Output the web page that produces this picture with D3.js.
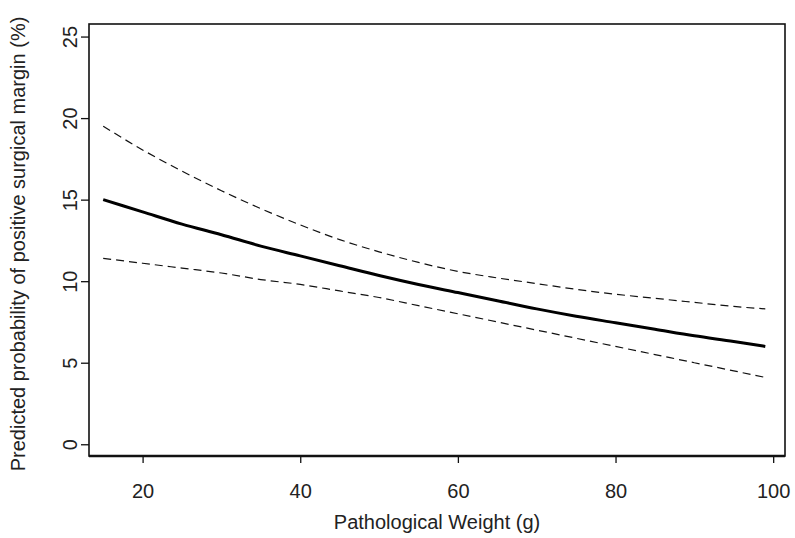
<!DOCTYPE html>
<html><head><meta charset="utf-8">
<script src="https://cdn.jsdelivr.net/npm/d3@7"></script>
<style>body{margin:0;background:#fff}svg{display:block}text{font-family:"Liberation Sans",Arial,sans-serif;fill:#222}</style>
</head><body><svg id="c" width="795" height="538"></svg>
<script>
const weights = [15,20,25,30,35,40,45,50,55,60,65,70,75,80,85,90,95,99];
const predicted = [15.0,14.25,13.5,12.85,12.15,11.55,10.95,10.35,9.8,9.3,8.8,8.3,7.85,7.45,7.05,6.65,6.3,6.0];
const upperCI = [19.5,18.05,16.75,15.55,14.45,13.45,12.55,11.8,11.15,10.6,10.2,9.85,9.5,9.2,8.95,8.7,8.45,8.3];
const lowerCI = [11.4,11.1,10.8,10.5,10.1,9.8,9.4,9.0,8.5,8.0,7.5,7.0,6.5,6.0,5.5,5.0,4.5,4.1];
const xTicks = [20,40,60,80,100];
const yTicks = [0,5,10,15,20,25];
const xTitle = "Pathological Weight (g)";
const yTitle = "Predicted probability of positive surgical margin (%)";

const FONT = '"Liberation Sans",Arial,sans-serif';
const svg = d3.select("#c");
const L=89, R=785, T=24, B=456;
const x = d3.scaleLinear().domain([13.2,101.5]).range([L,R]);
const y = d3.scaleLinear().domain([-0.72,25.77]).range([B,T]);

// frame
svg.append("rect").attr("x",L).attr("y",T).attr("width",R-L).attr("height",B-T)
  .attr("fill","none").attr("stroke","#111").attr("stroke-width",1.6);
svg.append("line").attr("x1",L).attr("x2",R).attr("y1",B).attr("y2",B).attr("stroke","#111").attr("stroke-width",2.4);

// x axis
const xa = svg.append("g").attr("transform",`translate(0,${B})`)
  .call(d3.axisBottom(x).tickValues(xTicks).tickSize(7).tickPadding(21).tickFormat(d3.format("d")));
xa.select(".domain").remove();
xa.selectAll("line").attr("stroke","#111").attr("stroke-width",1.3);
xa.selectAll("text").attr("font-size",20).attr("fill","#222").style("font-family",FONT);

// y axis
const ya = svg.append("g").attr("transform",`translate(${L},0)`)
  .call(d3.axisLeft(y).tickValues(yTicks).tickSize(8).tickFormat(d3.format("d")));
ya.select(".domain").remove();
ya.selectAll("line").attr("stroke","#111").attr("stroke-width",1.3);
ya.selectAll("text").remove();
ya.selectAll(".tick").append("text")
  .attr("transform","translate(-12,0) rotate(-90)")
  .attr("text-anchor","middle")
  .attr("font-size",20).attr("fill","#222")
  .style("font-family",FONT)
  .text(d=>d);

// titles
svg.append("text").attr("x",(L+R)/2).attr("y",529).attr("text-anchor","middle")
  .attr("font-size",20).text(xTitle);
svg.append("text").attr("transform",`translate(25,244) rotate(-90)`)
  .attr("text-anchor","middle").attr("font-size",20).text(yTitle);

const line = d3.line().x((d,i)=>x(weights[i])).y(d=>y(d)).curve(d3.curveMonotoneX);
svg.append("path").datum(upperCI).attr("d",line).attr("fill","none").attr("stroke","#111")
  .attr("stroke-width",1.2).attr("stroke-dasharray","8,5");
svg.append("path").datum(lowerCI).attr("d",line).attr("fill","none").attr("stroke","#111")
  .attr("stroke-width",1.2).attr("stroke-dasharray","8,5");
svg.append("path").datum(predicted).attr("d",line).attr("fill","none").attr("stroke","#000")
  .attr("stroke-width",3);
</script></body></html>
